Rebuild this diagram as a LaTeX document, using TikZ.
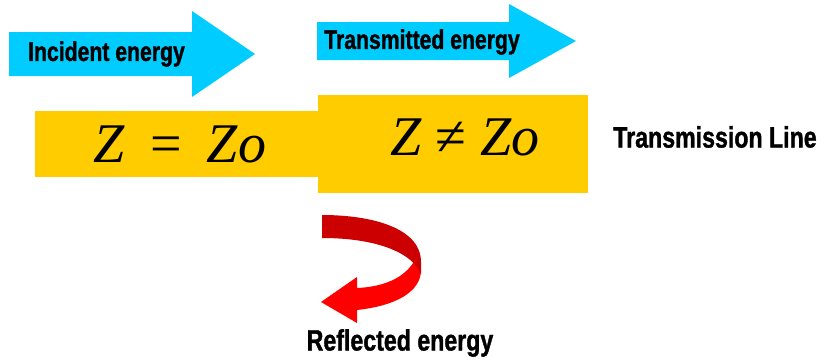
\documentclass[tikz,border=0pt]{standalone}
\usepackage{fontspec}
\newfontfamily\labfont[FakeStretch=0.785, FakeBold=1.2]{Liberation Sans Bold}
\newfontfamily\mathfont{Liberation Serif}
\definecolor{cyanarrow}{HTML}{00CCFF}
\definecolor{lineyellow}{HTML}{FFCC00}
\definecolor{darkred}{HTML}{CC0000}
\definecolor{brightred}{HTML}{FF0000}
\tikzset{
  lab/.style={font=\labfont\fontsize{29.5}{32}\selectfont, inner sep=0pt},
  arrlab/.style={font=\labfont\fontsize{27}{30}\selectfont, inner sep=0pt},
  zeq/.style={font=\mathfont\fontsize{56}{60}\selectfont, inner sep=0pt, anchor=base},
}
\begin{document}
\begin{tikzpicture}[x=1pt,y=-1pt]
\useasboundingbox (0,0) rectangle (825,364);
% cyan arrows
\fill[cyanarrow] (9,32) -- (192,32) -- (192,11) -- (255,54) -- (192,97) -- (192,76) -- (9,76) -- cycle;
\fill[cyanarrow] (317,22) -- (509,22) -- (509,4) -- (576,41) -- (509,78) -- (509,60) -- (317,60) -- cycle;
\node[arrlab] (inc) at (106.5,54) {Incident energy};
\node[arrlab] (tra) at (422,42) {Transmitted energy};
% transmission line
\fill[lineyellow] (35,111) rectangle (320,177);
\fill[lineyellow] (318,95) rectangle (588,193);
\node[zeq] (z1) at (180,162) {\itshape Z\hspace{0.45em}\upshape=\hspace{0.45em}\itshape Zo};
\node[zeq] (z2) at (465,155) {\itshape Z \upshape≠ \itshape Zo};
\node[lab] (tl) at (715,137) {Transmission Line};
% reflected arrow
\fill[brightred] (416,258) .. controls (405,280) and (380,287) .. (357,288)
  -- (357,277) -- (321,302) -- (357,323) -- (357,310)
  .. controls (395,306) and (421,292) .. (421,270) -- cycle;
\fill[darkred] (322,215) .. controls (372,215) and (421,228) .. (421,262)
  -- (421,274) .. controls (412,252) and (375,238) .. (322,238) -- cycle;
\node[lab] (ref) at (400,343) {Reflected energy};
\end{tikzpicture}
\end{document}
